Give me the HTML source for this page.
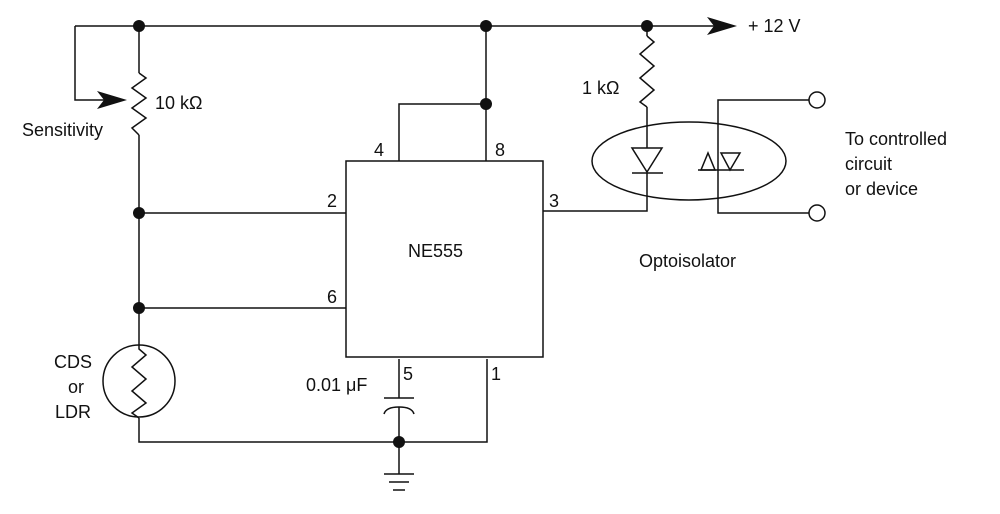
<!DOCTYPE html>
<html><head><style>
html,body{margin:0;padding:0;background:#fff;}
svg{display:block;}
text{font-family:"Liberation Sans",Arial,sans-serif;font-size:18px;fill:#111;}
</style></head><body>
<svg width="1000" height="514" viewBox="0 0 1000 514" xmlns="http://www.w3.org/2000/svg">
<g stroke="#111" stroke-width="1.5" fill="none">
<line x1="75" y1="26" x2="720" y2="26"/>
<polyline points="75,26 75,100 105,100"/>
<line x1="139" y1="26" x2="139" y2="73"/>
<polyline points="139,73 146,78 132,88 146,98 132,108 146,118 132,128 139,135"/>
<line x1="139" y1="135" x2="139" y2="345"/>
<line x1="139" y1="213" x2="346" y2="213"/>
<line x1="139" y1="308" x2="346" y2="308"/>
<circle cx="139" cy="381" r="36"/>
<polyline points="139,345 139,349 146,355 132,367 146,379 132,391 146,403 132,413 139,418"/>
<polyline points="139,418 139,442 487,442 487,359"/>
<rect x="346" y="161" width="197" height="196"/>
<polyline points="399,161 399,104 486,104"/>
<line x1="486" y1="26" x2="486" y2="161"/>
<line x1="399" y1="359" x2="399" y2="398"/>
<line x1="384" y1="398" x2="414" y2="398"/>
<path d="M384,414 Q386,407 399,407 Q412,407 414,414"/>
<line x1="399" y1="407" x2="399" y2="474"/>
<line x1="384" y1="474" x2="414" y2="474"/>
<line x1="389" y1="482" x2="409" y2="482"/>
<line x1="393" y1="490" x2="405" y2="490"/>
<line x1="647" y1="26" x2="647" y2="36"/>
<polyline points="647,36 654,42 640,54 654,66 640,78 654,90 640,102 647,107"/>
<line x1="647" y1="107" x2="647" y2="148"/>
<polygon points="632,148 662,148 647,172"/>
<line x1="632" y1="173" x2="663" y2="173"/>
<polyline points="647,173 647,211 543,211"/>
<ellipse cx="689" cy="161" rx="97" ry="39"/>
<polyline points="809,100 718,100 718,170"/>
<polygon points="701,170 715,170 708,153"/>
<polygon points="721,153 740,153 730,170"/>
<line x1="698" y1="170" x2="744" y2="170"/>
<polyline points="718,170 718,213 809,213"/>
<circle cx="817" cy="100" r="8" fill="#fff"/>
<circle cx="817" cy="213" r="8" fill="#fff"/>
</g>
<g fill="#111">
<polygon points="127,100 97,91 104,100 97,109"/>
<polygon points="737,26 707,17 714,26 707,35"/>
<circle cx="139" cy="26" r="6"/>
<circle cx="486" cy="26" r="6"/>
<circle cx="486" cy="104" r="6"/>
<circle cx="647" cy="26" r="6"/>
<circle cx="139" cy="213" r="6"/>
<circle cx="139" cy="308" r="6"/>
<circle cx="399" cy="442" r="6"/>
</g>
<text x="748" y="32">+ 12 V</text>
<text x="155" y="109">10 kΩ</text>
<text x="22" y="136">Sensitivity</text>
<text x="582" y="94">1 kΩ</text>
<text x="845" y="145">To controlled</text>
<text x="845" y="170">circuit</text>
<text x="845" y="195">or device</text>
<text x="639" y="267">Optoisolator</text>
<text x="408" y="257">NE555</text>
<text x="374" y="156">4</text>
<text x="495" y="156">8</text>
<text x="327" y="207">2</text>
<text x="549" y="207">3</text>
<text x="327" y="303">6</text>
<text x="403" y="380">5</text>
<text x="491" y="380">1</text>
<text x="306" y="391">0.01 μF</text>
<text x="54" y="368">CDS</text>
<text x="68" y="393">or</text>
<text x="55" y="418">LDR</text>
</svg>
</body></html>
